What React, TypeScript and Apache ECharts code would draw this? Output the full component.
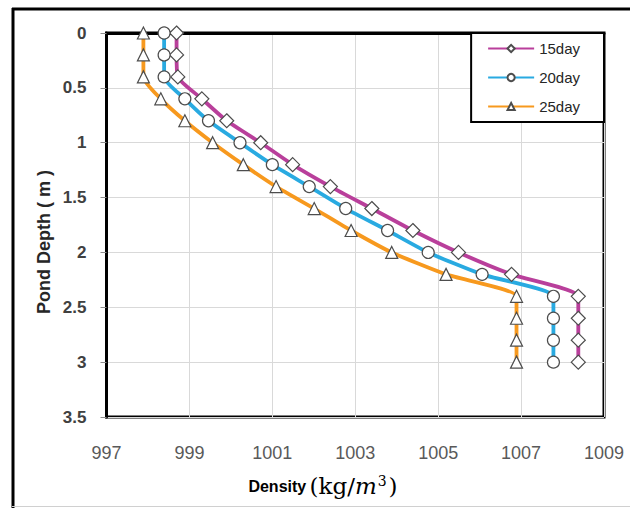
import React, { useEffect, useRef } from "react";
import * as echarts from "echarts";

const depths = [0, 0.2, 0.4, 0.6, 0.8, 1.0, 1.2, 1.4, 1.6, 1.8, 2.0, 2.2, 2.4, 2.6, 2.8, 3.0];
const day15 = [998.69, 998.69, 998.72, 999.30, 999.90, 1000.72, 1001.49, 1002.40, 1003.40, 1004.39, 1005.49, 1006.77, 1008.38, 1008.38, 1008.38, 1008.38];
const day20 = [998.39, 998.39, 998.39, 998.89, 999.46, 1000.22, 1001.00, 1001.89, 1002.77, 1003.78, 1004.76, 1006.06, 1007.78, 1007.78, 1007.78, 1007.78];
const day25 = [997.89, 997.89, 997.89, 998.31, 998.89, 999.56, 1000.30, 1001.09, 1002.01, 1002.90, 1003.88, 1005.19, 1006.89, 1006.89, 1006.89, 1006.89];
const seriesNames = ["15day", "20day", "25day"];
const xTicks = [997, 999, 1001, 1003, 1005, 1007, 1009];
const yTicks = [0, 0.5, 1, 1.5, 2, 2.5, 3, 3.5];

const X0 = xTicks[0];
const FONT = "'Liberation Sans', Arial, sans-serif";

export default function App() {
  const ref = useRef<HTMLDivElement>(null);
  useEffect(() => {
    document.body.style.margin = "0";
    const chart = echarts.init(ref.current!, null, { renderer: "svg" });
    const mk = (name: string, vals: number[], color: string, symbol: string, size: number) => ({
      name,
      type: "line",
      data: depths.map((d, i) => [vals[i] - X0, d]),
      smooth: 0.2,
      symbol,
      symbolSize: size,
      lineStyle: { color, width: 3.8 },
      itemStyle: { color: "#ffffff", borderColor: "#4d4d4d", borderWidth: 1.2 },
      z: 3,
    });
    chart.setOption({
      animation: false,
      backgroundColor: "#ffffff",
      textStyle: { fontFamily: FONT },
      grid: {
        left: 106.5,
        right: 26,
        top: 33,
        bottom: 91,
        show: true,
        borderColor: "#000000",
        borderWidth: 3,
        backgroundColor: "transparent",
      },
      xAxis: {
        type: "value",
        min: 0,
        max: xTicks[xTicks.length - 1] - X0,
        interval: xTicks[1] - xTicks[0],
        axisLine: { show: true, lineStyle: { color: "#000", width: 3 } },
        axisTick: { show: false },
        splitLine: { show: true, lineStyle: { color: "#d9d9d9", width: 1 } },
        axisLabel: {
          margin: 27,
          fontSize: 18,
          color: "#595959",
          fontFamily: FONT,
          formatter: (v: number) => String(v + X0),
        },
      },
      yAxis: {
        type: "value",
        inverse: true,
        min: yTicks[0],
        max: yTicks[yTicks.length - 1],
        interval: yTicks[1] - yTicks[0],
        axisLine: { show: true, lineStyle: { color: "#000", width: 3 } },
        axisTick: { show: true, inside: false, length: 6, lineStyle: { color: "#8c8c8c", width: 1 } },
        splitLine: { show: true, lineStyle: { color: "#d9d9d9", width: 1 } },
        axisLabel: {
          margin: 20,
          fontSize: 17,
          fontWeight: "bold",
          color: "#404040",
          fontFamily: FONT,
        },
      },
      legend: {
        orient: "vertical",
        right: 26,
        top: 33,
        itemWidth: 46,
        itemHeight: 9,
        itemGap: 14,
        padding: [8, 24, 8, 16],
        borderColor: "#000000",
        borderWidth: 2,
        backgroundColor: "#ffffff",
        data: seriesNames,
        textStyle: { fontSize: 15, color: "#262626", fontFamily: FONT, lineHeight: 15 },
      },
      series: [
        mk(seriesNames[0], day15, "#B93F9B", "diamond", 14),
        mk(seriesNames[1], day20, "#29AAE1", "circle", 12),
        mk(seriesNames[2], day25, "#F7991E", "triangle", 12),
      ],
      graphic: [
        { type: "line", shape: { x1: 13, y1: 8, x2: 13, y2: 508 }, style: { stroke: "#000", lineWidth: 3 } },
        { type: "line", shape: { x1: 12, y1: 9, x2: 630, y2: 9 }, style: { stroke: "#000", lineWidth: 3 } },
        { type: "line", shape: { x1: 12, y1: 506.5, x2: 630, y2: 506.5 }, style: { stroke: "#d0d0d0", lineWidth: 1 } },
        {
          type: "text",
          x: 44,
          y: 242,
          rotation: Math.PI / 2,
          style: {
            text: "Pond Depth ( m )",
            font: `bold 18px ${FONT}`,
            fill: "#262626",
            align: "center",
            verticalAlign: "middle",
          },
        },
        {
          type: "text",
          x: 323,
          y: 486,
          style: {
            text: "{a|Density} {b|(kg/}{c|m}{s|3}{b|)}",
            align: "center",
            verticalAlign: "middle",
            rich: {
              a: { fontFamily: FONT, fontWeight: "bold", fontSize: 16, color: "#262626" },
              b: { fontFamily: "'DejaVu Serif', serif", fontSize: 23, color: "#5c4f6e" },
              c: { fontFamily: "'DejaVu Serif', serif", fontStyle: "italic", fontSize: 23, color: "#5c4f6e" },
              s: { fontFamily: "'DejaVu Serif', serif", fontSize: 14, color: "#5c4f6e", verticalAlign: "top", padding: [0, 2, 10, 1] },
            },
          },
        },
      ],
    });
    return () => chart.dispose();
  }, []);
  return <div ref={ref} style={{ width: 630, height: 508 }} />;
}
